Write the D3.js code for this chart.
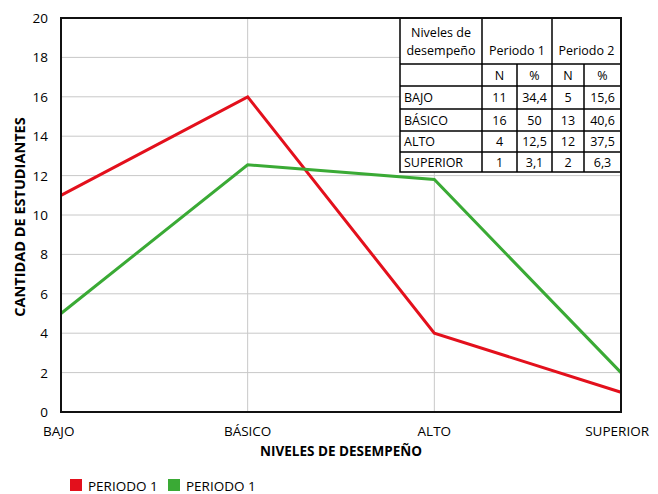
<!DOCTYPE html>
<html>
<head>
<meta charset="utf-8">
<script src="https://cdn.jsdelivr.net/npm/d3@7"></script>
<style>
  body { margin: 0; background: #fff; }
  svg { font-family: "Open Sans", "Noto Sans", sans-serif; }
</style>
</head>
<body>
<svg id="chart" width="658" height="494"></svg>
<script>
var niveles = ["BAJO", "BÁSICO", "ALTO", "SUPERIOR"];
var periodo1 = [11, 16, 4, 1];
var periodo2 = [5, 12.55, 11.8, 2];
var yTicks = d3.range(0, 21, 2);
var legendLabels = ["PERIODO 1", "PERIODO 1"];
var colors = ["#e3101c", "#3aaa35"];

// tabla superpuesta
var tablaFilas = [
    ["BAJO", "11", "34,4", "5", "15,6"],
    ["BÁSICO", "16", "50", "13", "40,6"],
    ["ALTO", "4", "12,5", "12", "37,5"],
    ["SUPERIOR", "1", "3,1", "2", "6,3"]
];
var tablaSub = ["", "N", "%", "N", "%"];

var svg = d3.select("#chart"),
    margin = { left: 61, top: 18, right: 37, bottom: 82 },
    width = 658 - margin.left - margin.right,
    height = 494 - margin.top - margin.bottom;

var x = d3.scalePoint().domain(niveles).range([margin.left, margin.left + width]);
var y = d3.scaleLinear().domain([0, 20]).range([margin.top + height, margin.top]);

// grid
svg.append("g")
    .selectAll("line")
    .data(yTicks.slice(1))
    .join("line")
    .attr("x1", margin.left).attr("x2", margin.left + width)
    .attr("y1", d => y(d)).attr("y2", d => y(d))
    .attr("stroke", "#c8c8c8").attr("stroke-width", 1);

svg.append("g")
    .selectAll("line")
    .data(niveles.slice(1, 3))
    .join("line")
    .attr("x1", d => x(d)).attr("x2", d => x(d))
    .attr("y1", margin.top).attr("y2", margin.top + height)
    .attr("stroke", "#c8c8c8").attr("stroke-width", 1);

// y tick labels
svg.append("g")
    .selectAll("text")
    .data(yTicks)
    .join("text")
    .attr("x", margin.left - 13)
    .attr("y", d => y(d) + 5)
    .attr("text-anchor", "end")
    .attr("font-size", 13.5)
    .attr("fill", "#000")
    .text(d => d);

// x tick labels
svg.append("g")
    .selectAll("text")
    .data(niveles)
    .join("text")
    .attr("x", d => x(d))
    .attr("y", 436)
    .attr("text-anchor", (d, i) => i === 0 ? "start" : (i === niveles.length - 1 ? "end" : "middle"))
    .attr("dx", (d, i) => i === 0 ? -18 : (i === niveles.length - 1 ? 28 : 0))
    .attr("font-size", 13.5)
    .attr("fill", "#000")
    .text(d => d);

// titles
svg.append("text")
    .attr("x", 341).attr("y", 456)
    .attr("text-anchor", "middle")
    .attr("font-size", 13.5).attr("font-weight", "bold")
    .text("NIVELES DE DESEMPEÑO");

svg.append("text")
    .attr("transform", "translate(25," + (margin.top + height / 2 + 2) + ") rotate(-90)")
    .attr("text-anchor", "middle")
    .attr("font-size", 14.5).attr("font-weight", "bold")
    .text("CANTIDAD DE ESTUDIANTES");

// lines
var line = d3.line().x((d, i) => x(niveles[i])).y(d => y(d));
[periodo1, periodo2].forEach(function (serie, k) {
    svg.append("path")
        .datum(serie)
        .attr("d", line)
        .attr("fill", "none")
        .attr("stroke", colors[k])
        .attr("stroke-width", 3)
        .attr("stroke-linejoin", "miter");
});

// table
var tx = [400, 482, 517, 552, 584, 621],
    ty = [18, 64, 86, 109, 131, 152, 172];
var tabla = svg.append("g").attr("font-size", 12.5).attr("fill", "#000");
tabla.append("rect")
    .attr("x", tx[0]).attr("y", ty[0])
    .attr("width", tx[5] - tx[0]).attr("height", ty[6] - ty[0])
    .attr("fill", "#fff").attr("stroke", "#000").attr("stroke-width", 1.5);

tabla.append("text").attr("x", (tx[0] + tx[1]) / 2).attr("y", 37).attr("text-anchor", "middle").text("Niveles de");
tabla.append("text").attr("x", (tx[0] + tx[1]) / 2).attr("y", 55).attr("text-anchor", "middle").text("desempeño");
tabla.append("text").attr("x", (tx[1] + tx[3]) / 2).attr("y", 55).attr("text-anchor", "middle").text("Periodo 1");
tabla.append("text").attr("x", (tx[3] + tx[5]) / 2).attr("y", 55).attr("text-anchor", "middle").text("Periodo 2");

// horizontal rules
tabla.selectAll("line.h")
    .data(ty.slice(1, 6))
    .join("line")
    .attr("class", "h")
    .attr("x1", tx[0]).attr("x2", tx[5])
    .attr("y1", d => d).attr("y2", d => d)
    .attr("stroke", "#000").attr("stroke-width", 1.5);

// vertical rules
[1, 3].forEach(function (c) {
    tabla.append("line").attr("x1", tx[c]).attr("x2", tx[c]).attr("y1", ty[0]).attr("y2", ty[6])
        .attr("stroke", "#000").attr("stroke-width", 1.5);
});
[2, 4].forEach(function (c) {
    tabla.append("line").attr("x1", tx[c]).attr("x2", tx[c]).attr("y1", ty[1]).attr("y2", ty[6])
        .attr("stroke", "#000").attr("stroke-width", 1.5);
});

var filas = [tablaSub].concat(tablaFilas);
filas.forEach(function (fila, r) {
    tabla.selectAll(null)
        .data(fila)
        .join("text")
        .attr("x", (d, c) => c === 0 ? tx[0] + 4 : (tx[c] + tx[c + 1]) / 2)
        .attr("y", (ty[r + 1] + ty[r + 2]) / 2 + 4.5)
        .attr("text-anchor", (d, c) => c === 0 ? "start" : "middle")
        .text(d => d);
});

// frame
svg.append("rect")
    .attr("x", margin.left).attr("y", margin.top)
    .attr("width", width).attr("height", height)
    .attr("fill", "none").attr("stroke", "#111").attr("stroke-width", 2);

// legend
var legend = svg.append("g")
    .selectAll("g")
    .data(legendLabels)
    .join("g")
    .attr("transform", (d, i) => "translate(" + (70 + i * 98) + ",479)");
legend.append("rect").attr("width", 12).attr("height", 12).attr("fill", (d, i) => colors[i]);
legend.append("text").attr("x", 18).attr("y", 11.5).attr("font-size", 13.5).attr("fill", "#000").text(d => d);
</script>
</body>
</html>
